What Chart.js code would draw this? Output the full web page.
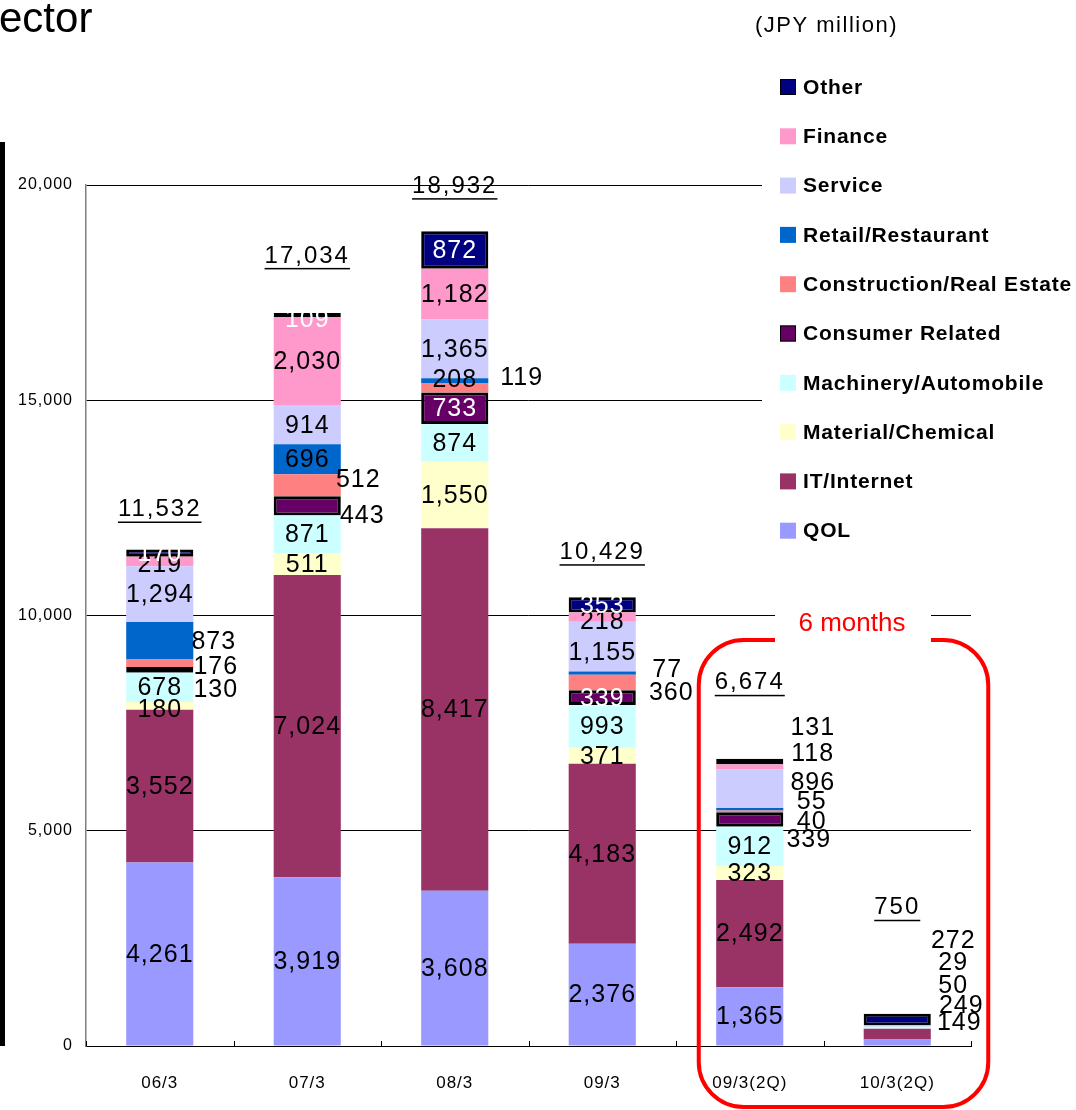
<!DOCTYPE html>
<html>
<head>
<meta charset="utf-8">
<script src="https://cdn.jsdelivr.net/npm/chart.js@4.4.1/dist/chart.umd.min.js"></script>
<style>
  html, body { margin: 0; padding: 0; background: #fff; }
  #wrap { position: relative; width: 1076px; height: 1110px; overflow: hidden; }
</style>
</head>
<body>
<div id="wrap"><canvas id="sectorChart" width="1076" height="1110"></canvas></div>
<script>
// categories and series (JPY million), bottom of stack first
const categories = ['06/3', '07/3', '08/3', '09/3', '09/3(2Q)', '10/3(2Q)'];
const qol          = [4261, 3919, 3608, 2376, 1365, 149];
const itInternet   = [3552, 7024, 8417, 4183, 2492, 249];
const material     = [180, 511, 1550, 371, 323, null];
const machinery    = [678, 871, 874, 993, 912, 50];
const consumer     = [130, 443, 733, 339, 339, null];
const construction = [176, 512, 208, 360, 40, null];
const retail       = [873, 696, 119, 77, 55, null];
const service      = [1294, 914, 1365, 1155, 896, 29];
const finance      = [219, 2030, 1182, 218, 118, null];
const other        = [170, 109, 872, 353, 131, 272];
const totals       = [11532, 17034, 18932, 10429, 6674, 750];
const yTicks       = [0, 5000, 10000, 15000, 20000];

const FONT = '"Liberation Sans", Arial, sans-serif';

// where a segment label sits when it is not centred in its segment
const labelPlace = {
  '4-0': { dx: 56, dy: 19 }, '5-0': { dx: 56, dy: 3 }, '6-0': { dx: 54, dy: 0 },
  '8-0': { dy: 3 }, '2-0': { dy: 3 },
  '4-1': { dx: 55, dy: 9 }, '5-1': { dx: 51, dy: -6 }, '9-1': { dy: 4 },
  '5-2': { dy: -9 }, '6-2': { dx: 67, dy: -4 },
  '5-3': { dx: 69, dy: 10 }, '6-3': { dx: 65, dy: -4 }, '7-3': { dy: 5 }, '8-3': { dy: 4 },
  '4-4': { dx: 59, dy: 20 }, '5-4': { dx: 62, dy: 10 }, '6-4': { dx: 62, dy: -8 },
  '7-4': { dx: 63, dy: -7 }, '8-4': { dx: 63, dy: -14 }, '9-4': { dx: 63, dy: -35 },
  '0-5': { dx: 62, dy: -20 }, '1-5': { dx: 64, dy: -29 }, '3-5': { dx: 56, dy: -43 },
  '7-5': { dx: 56, dy: -64 }, '9-5': { dx: 56, dy: -80 }
};
const totalGap = [40, 57, 45, 45, 76, 106];

function mk(label, data, color, opts) {
  return Object.assign({
    label: label, data: data, backgroundColor: color,
    borderWidth: 0, borderSkipped: false, labelColor: '#000'
  }, opts || {});
}

const datasets = [
  mk('QOL', qol, '#9999FF'),
  mk('IT/Internet', itInternet, '#993366'),
  mk('Material/Chemical', material, '#FFFFCC'),
  mk('Machinery/Automobile', machinery, '#CCFFFF'),
  mk('Consumer Related', consumer, '#660066', { borderWidth: 3, borderColor: '#000', labelColor: '#fff' }),
  mk('Construction/Real Estate', construction, '#FF8080'),
  mk('Retail/Restaurant', retail, '#0066CC'),
  mk('Service', service, '#CCCCFF'),
  mk('Finance', finance, '#FF99CC'),
  mk('Other', other, '#000080', { borderWidth: 3, borderColor: '#000', labelColor: '#fff' })
];

const fmt = v => Number(v).toLocaleString('en-US');

const decorPlugin = {
  id: 'decor',
  beforeDraw(chart) {
    // axis tick labels in the source are slightly spaced out
    chart.ctx.letterSpacing = '1px';
  },
  afterDatasetsDraw(chart) {
    const ctx = chart.ctx;
    const xs = chart.scales.x, area = chart.chartArea;
    ctx.save();
    // small inward ticks on the category axis
    ctx.strokeStyle = '#000';
    ctx.lineWidth = 1;
    for (let i = 0; i <= categories.length; i++) {
      const x = Math.round(area.left + (area.right - area.left) * i / categories.length) + 0.5;
      ctx.beginPath();
      ctx.moveTo(x, area.bottom);
      ctx.lineTo(x, area.bottom - 5);
      ctx.stroke();
    }
    // segment labels
    ctx.font = '25px ' + FONT;
    ctx.letterSpacing = '1px';
    ctx.textAlign = 'center';
    ctx.textBaseline = 'middle';
    chart.data.datasets.forEach((ds, di) => {
      const meta = chart.getDatasetMeta(di);
      meta.data.forEach((bar, i) => {
        const v = ds.data[i];
        if (v == null) return;
        const p = labelPlace[di + '-' + i] || {};
        const cy = (bar.y + bar.base) / 2;
        ctx.fillStyle = p.dx ? '#000' : ds.labelColor;
        ctx.fillText(fmt(v), bar.x + (p.dx || 0), cy + (p.dy || 0) + 1);
      });
    });
    // totals, underlined
    ctx.font = '24px ' + FONT;
    ctx.letterSpacing = '2px';
    ctx.fillStyle = '#000';
    const top = chart.getDatasetMeta(chart.data.datasets.length - 1).data;
    totals.forEach((t, i) => {
      const x = xs.getPixelForValue(i);
      const barTop = top[i].y;
      const y = barTop - totalGap[i];
      const s = fmt(t);
      const w = ctx.measureText(s).width;
      ctx.fillText(s, x, y);
      ctx.fillRect(x - w / 2, y + 12, w, 1.5);
    });
    ctx.restore();
  },
  afterDraw(chart) {
    const ctx = chart.ctx;
    const xs = chart.scales.x;
    ctx.save();
    // title fragment and left rule
    ctx.fillStyle = '#000';
    ctx.font = '42px ' + FONT;
    ctx.letterSpacing = '0px';
    ctx.textBaseline = 'alphabetic';
    ctx.textAlign = 'left';
    ctx.fillText('ector', -1, 32);
    ctx.fillRect(0, 142, 5, 904);

    // legend, top series first
    ctx.fillStyle = '#fff';
    ctx.fillRect(762, 60, 314, 495);
    ctx.fillStyle = '#000';
    ctx.font = '22px ' + FONT;
    ctx.letterSpacing = '1.5px';
    ctx.textBaseline = 'middle';
    ctx.fillText('(JPY million)', 755, 26);
    ctx.font = 'bold 21px ' + FONT;
    ctx.letterSpacing = '0.8px';
    const list = chart.data.datasets.slice().reverse();
    list.forEach((ds, k) => {
      const y = 87 + k * 49.3;
      ctx.fillStyle = ds.backgroundColor;
      ctx.fillRect(780, y - 8, 16, 16);
      if (ds.borderWidth) {
        ctx.strokeStyle = '#000';
        ctx.lineWidth = 1;
        ctx.strokeRect(780.5, y - 7.5, 15, 15);
      }
      ctx.fillStyle = '#000';
      ctx.fillText(ds.label, 803, y + 1);
    });

    // red frame round the half-year bars
    const left = xs.getPixelForValue(4) - 51;
    const right = xs.getPixelForValue(5) + 91;
    ctx.strokeStyle = '#FF0000';
    ctx.lineWidth = 4;
    ctx.beginPath();
    ctx.roundRect(left, 640, right - left, 467, 45);
    ctx.stroke();
    ctx.fillStyle = '#fff';
    ctx.fillRect(775, 598, 156, 46);
    ctx.fillStyle = '#FF0000';
    ctx.font = '26px ' + FONT;
    ctx.letterSpacing = '0px';
    ctx.textAlign = 'center';
    ctx.fillText('6 months', 852, 624);
    ctx.restore();
  }
};

new Chart(document.getElementById('sectorChart'), {
  type: 'bar',
  data: { labels: categories, datasets: datasets },
  options: {
    responsive: false,
    animation: false,
    devicePixelRatio: 1,
    layout: { padding: { top: 185, right: 105, left: 0, bottom: 0 } },
    datasets: { bar: { categoryPercentage: 1, barPercentage: 0.455 } },
    plugins: { legend: { display: false }, tooltip: { enabled: false } },
    scales: {
      x: {
        stacked: true,
        grid: { display: false },
        border: { display: true, color: '#000', width: 1 },
        ticks: { color: '#000', font: { family: FONT, size: 17 }, padding: 19 },
        afterFit: s => { s.height = 64; }
      },
      y: {
        stacked: true,
        min: yTicks[0],
        max: yTicks[yTicks.length - 1],
        afterBuildTicks: s => { s.ticks = yTicks.map(v => ({ value: v })); },
        ticks: { color: '#000', font: { family: FONT, size: 16 }, padding: 13, callback: v => fmt(v) },
        grid: {
          drawTicks: false,
          color: c => (c.tick && c.tick.value === 0) ? 'rgba(0,0,0,0)' : '#000',
          lineWidth: 1
        },
        border: { display: true, color: '#808080', width: 1.5 },
        afterFit: s => { s.width = 86; }
      }
    }
  },
  plugins: [decorPlugin]
});
</script>
</body>
</html>
